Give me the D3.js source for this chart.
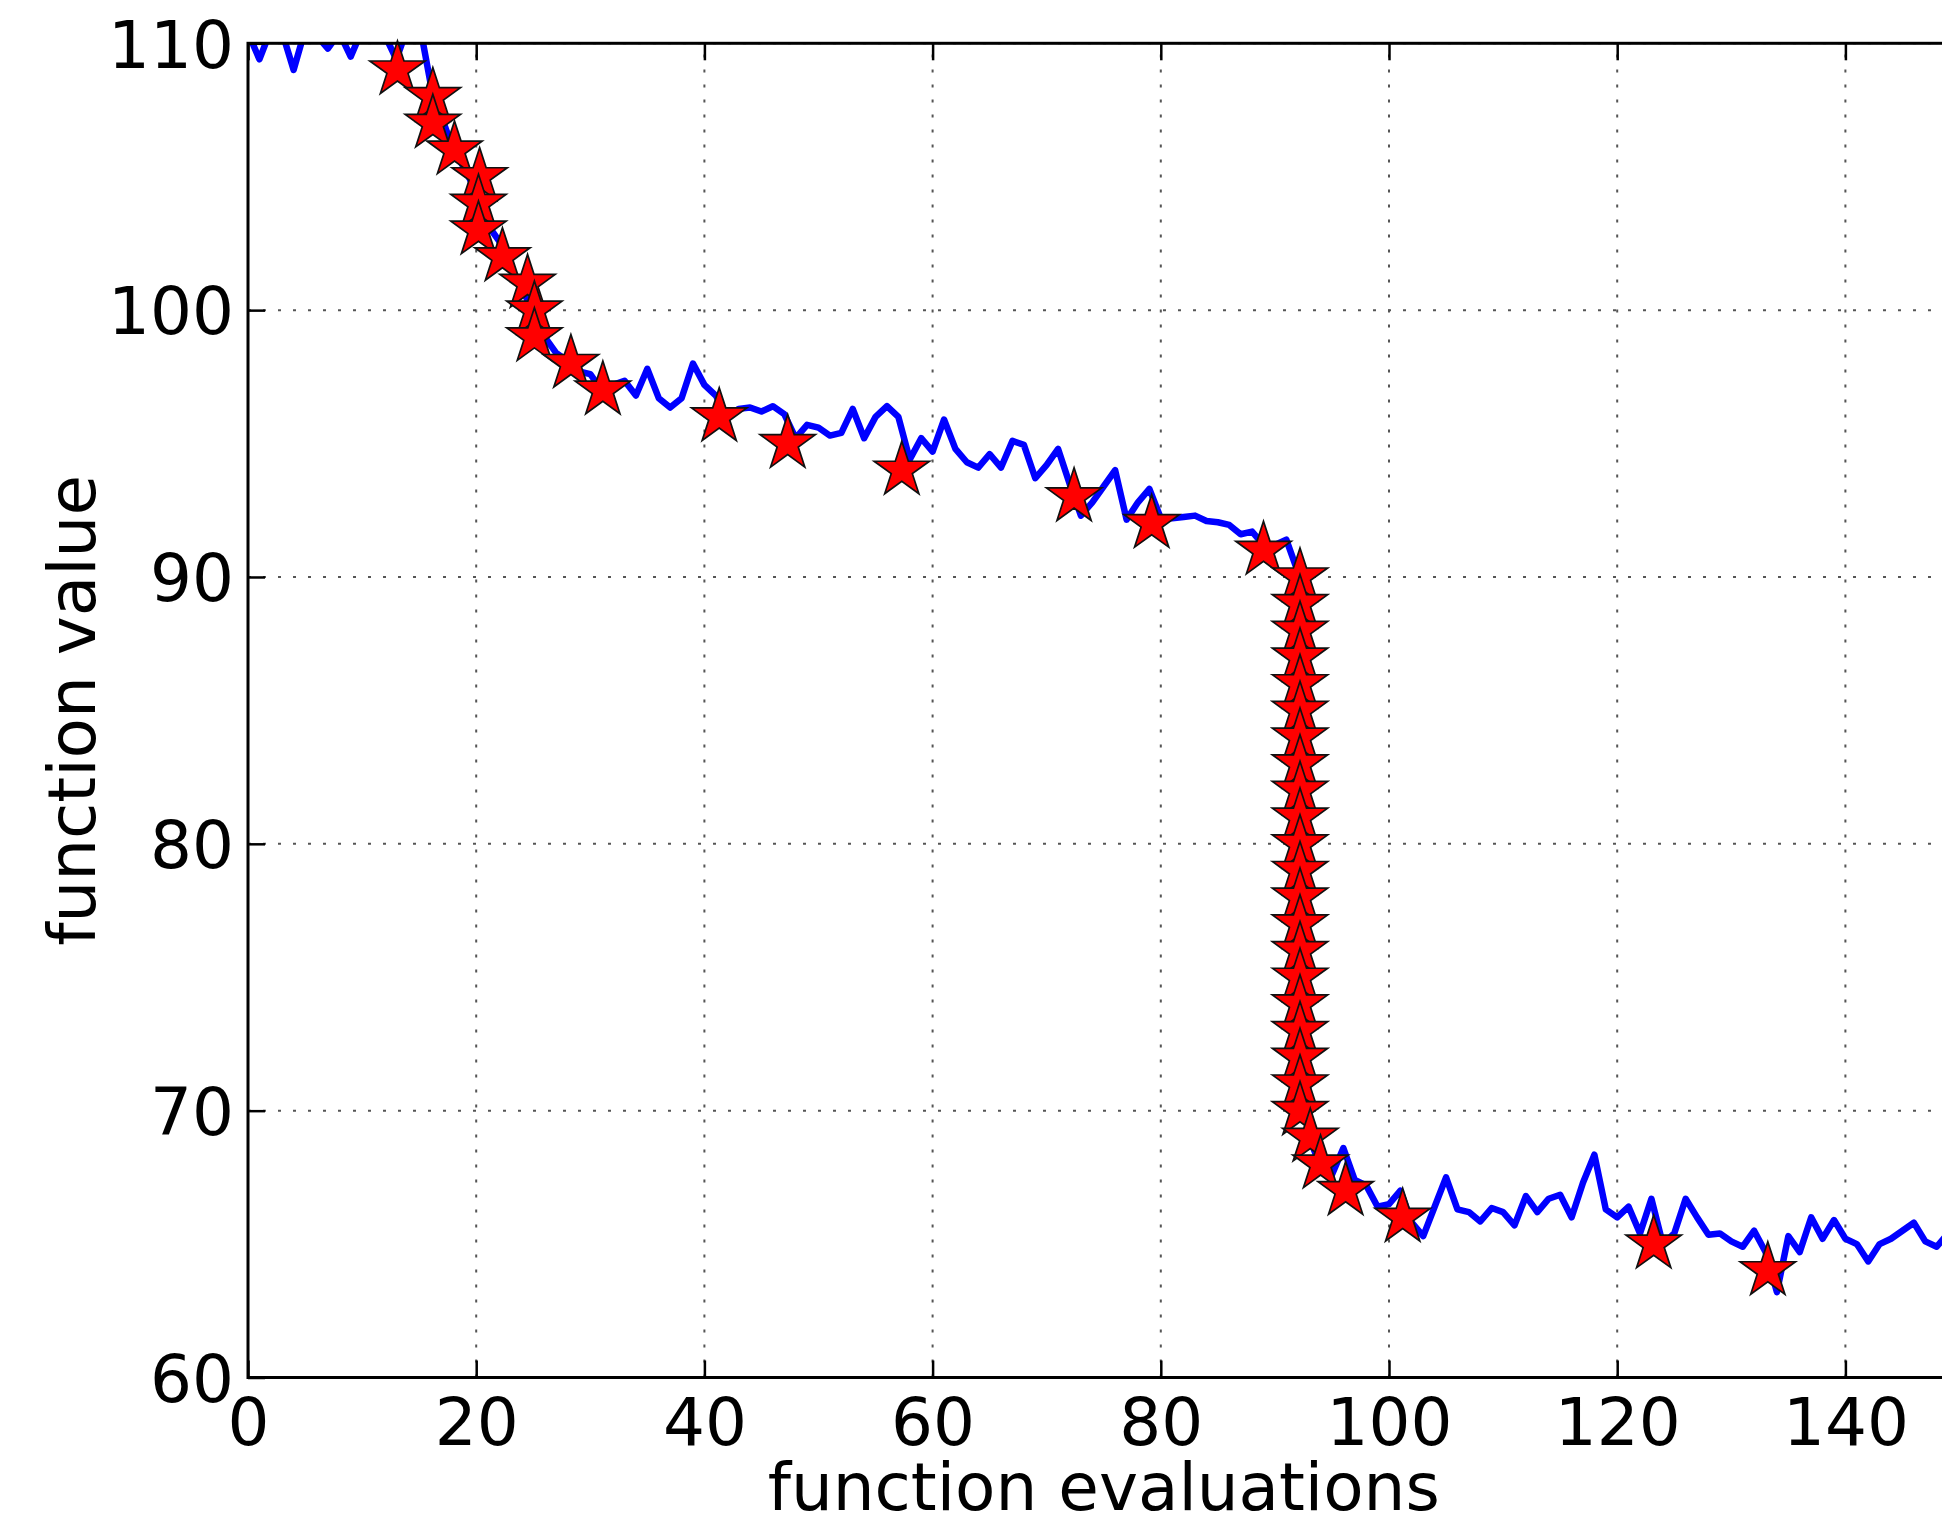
<!DOCTYPE html>
<html>
<head>
<meta charset="utf-8">
<script src="https://cdn.jsdelivr.net/npm/d3@7"></script>
<style>
  body { margin: 0; background: #fff; }
  svg { display: block; }
</style>
</head>
<body>
<script>
// function value at each evaluation (index = evaluation number)
const fvals = [
  110.4, 109.4, 110.5, 110.4, 109.0, 110.5, 110.3, 109.8, 110.4, 109.5,
  110.5, 110.2, 110.3, 109.4, 110.6, 110.8, 108.5, 107.2, 106.0, 105.3,
  104.4, 103.2, 102.6, 101.5, 100.9, 99.8, 99.0, 98.4, 98.1, 97.7,
  97.6, 97.0, 97.2, 97.35, 96.8, 97.8, 96.7, 96.35, 96.7, 98.0,
  97.2, 96.8, 96.0, 96.3, 96.35, 96.2, 96.4, 96.1, 95.2, 95.7,
  95.6, 95.3, 95.4, 96.3, 95.2, 96.0, 96.4, 96.0, 94.4, 95.2,
  94.7, 95.9, 94.8, 94.3, 94.1, 94.6, 94.1, 95.1, 94.95, 93.7,
  94.2, 94.8, 93.5, 92.3, 92.8, 93.4, 94.0, 92.15, 92.8, 93.3,
  92.2, 92.2, 92.25, 92.3, 92.1, 92.05, 91.95, 91.6, 91.7, 91.2,
  91.2, 91.4, 90.2, 69.0, 67.9, 67.6, 68.6, 67.4, 67.2, 66.4,
  66.5, 67.0, 65.8, 65.3, 66.4, 67.5, 66.3, 66.2, 65.85, 66.35,
  66.2, 65.7, 66.8, 66.2, 66.7, 66.85, 66.0, 67.3, 68.35, 66.3,
  66.0, 66.4, 65.4, 66.7, 65.0, 65.4, 66.7, 66.0, 65.35, 65.4,
  65.1, 64.9, 65.5, 64.7, 63.2, 65.3, 64.7, 66.0, 65.2, 65.9,
  65.2, 65.0, 64.35, 65.0, 65.2, 65.5, 65.8, 65.1, 64.9, 65.4,
  65.6
];

// improvements (stars)
const starX = [13.1, 16.2, 16.2, 18.1, 20.3, 20.2, 20.2, 22.3, 24.5, 25.1,
  25.1, 28.3, 31.1, 41.3, 47.3, 57.3, 72.4, 79.2, 89.0,
  92.2, 92.2, 92.2, 92.2, 92.2, 92.2, 92.2, 92.2, 92.2, 92.2, 92.2,
  92.2, 92.2, 92.2, 92.2, 92.2, 92.2, 92.2, 92.2, 92.2, 92.2,
  93.1, 94.0, 96.2, 101.2, 123.2, 133.2];
const starY = [109, 108, 107, 106, 105, 104, 103, 102, 101, 100,
  99, 98, 97, 96, 95, 94, 93, 92, 91,
  90, 89, 88, 87, 86, 85, 84, 83, 82, 81, 80,
  79, 78, 77, 76, 75, 74, 73, 72, 71, 70,
  69, 68, 67, 66, 65, 64];

const xTicks = [0, 20, 40, 60, 80, 100, 120, 140];
const yTicks = [60, 70, 80, 90, 100, 110];

const width = 1942, height = 1527;
const plotLeft = 248, plotTop = 43.3, plotBottom = 1377.5;

const x = d3.scaleLinear().domain([0, 150]).range([plotLeft, plotLeft + 150 * 11.41]);
const y = d3.scaleLinear().domain([60, 110]).range([plotBottom, plotTop]);
const plotRight = x(150);

const svg = d3.select("body").append("svg")
  .attr("width", width)
  .attr("height", height)
  .style("font-family", "'DejaVu Sans', sans-serif");

svg.append("defs").append("clipPath").attr("id", "plotclip")
  .append("rect")
  .attr("x", plotLeft).attr("y", plotTop)
  .attr("width", plotRight - plotLeft).attr("height", plotBottom - plotTop);

// grid
const grid = svg.append("g").attr("stroke", "#555").attr("stroke-width", 2)
  .attr("stroke-dasharray", "3,12");
grid.selectAll(".gx").data(xTicks).enter().append("line")
  .attr("x1", d => x(d)).attr("x2", d => x(d))
  .attr("y1", plotBottom).attr("y2", plotTop);
grid.selectAll(".gy").data(yTicks).enter().append("line")
  .attr("x1", plotLeft).attr("x2", plotRight)
  .attr("y1", d => y(d)).attr("y2", d => y(d));

// evaluation trace
const line = d3.line()
  .x((d, i) => x(i))
  .y(d => y(d));

svg.append("path")
  .attr("clip-path", "url(#plotclip)")
  .attr("d", line(fvals))
  .attr("fill", "none")
  .attr("stroke", "#0000ff")
  .attr("stroke-width", 6.5)
  .attr("stroke-linejoin", "round");

// stars
const star = d3.symbol().type(d3.symbolStar).size(950);
svg.append("g").selectAll("path")
  .data(starX)
  .enter().append("path")
  .attr("d", star)
  .attr("transform", (d, i) => "translate(" + x(d) + "," + y(starY[i]) + ")")
  .attr("fill", "#ff0000")
  .attr("stroke", "#111")
  .attr("stroke-width", 1.7);

// axes (inward ticks on all four sides)
const fontSize = 66;
const xAxis = d3.axisBottom(x).tickValues(xTicks).tickSize(-17).tickPadding(21).tickFormat(d3.format("d"));
const yAxis = d3.axisLeft(y).tickValues(yTicks).tickSize(-17).tickPadding(14).tickFormat(d3.format("d"));
const xTop = d3.axisTop(x).tickValues(xTicks).tickSize(-17).tickFormat("");
const yRight = d3.axisRight(y).tickValues(yTicks).tickSize(-17).tickFormat("");

function style(g) {
  g.select(".domain").remove();
  g.selectAll(".tick line").attr("stroke", "#000").attr("stroke-width", 2.5);
  g.selectAll(".tick text").attr("fill", "#000")
    .style("font-size", fontSize + "px")
    .style("font-family", "'DejaVu Sans', sans-serif");
}

svg.append("g").attr("transform", "translate(0," + plotBottom + ")").call(xAxis).call(style);
svg.append("g").attr("transform", "translate(" + plotLeft + ",0)").call(yAxis).call(style)
  .selectAll(".tick text").attr("dy", "0.36em");
svg.append("g").attr("transform", "translate(0," + plotTop + ")").call(xTop).call(style);
svg.append("g").attr("transform", "translate(" + plotRight + ",0)").call(yRight).call(style);

// frame
svg.append("rect")
  .attr("x", plotLeft).attr("y", plotTop)
  .attr("width", plotRight - plotLeft).attr("height", plotBottom - plotTop)
  .attr("fill", "none").attr("stroke", "#000").attr("stroke-width", 3);

// labels
svg.append("text")
  .attr("x", (plotLeft + plotRight) / 2).attr("y", 1510)
  .attr("text-anchor", "middle")
  .style("font-size", fontSize + "px")
  .text("function evaluations");

svg.append("text")
  .attr("transform", "translate(95," + (plotTop + plotBottom) / 2 + ") rotate(-90)")
  .attr("text-anchor", "middle")
  .style("font-size", fontSize + "px")
  .text("function value");
</script>
</body>
</html>
